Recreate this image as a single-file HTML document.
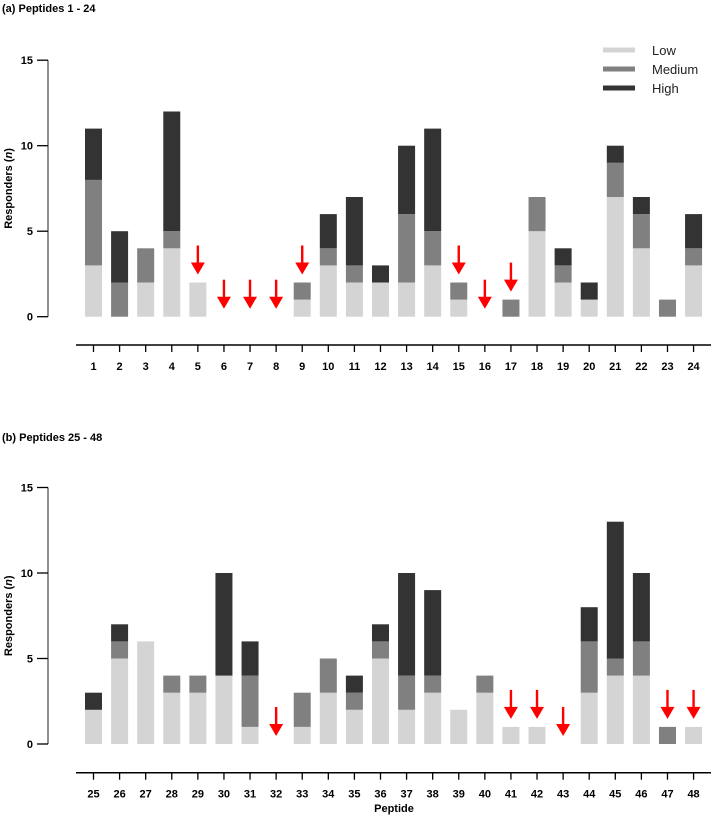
<!DOCTYPE html>
<html><head><meta charset="utf-8"><style>
html,body{margin:0;padding:0;background:#fff;width:711px;height:822px;overflow:hidden}
svg{display:block;font-family:"Liberation Sans",Arial,sans-serif}
</style></head><body>
<svg id="chart" width="711" height="822" xmlns="http://www.w3.org/2000/svg"></svg>
<script>
// Panel (a) data: peptides 1-24
const catsA = [1,2,3,4,5,6,7,8,9,10,11,12,13,14,15,16,17,18,19,20,21,22,23,24];
const lowA  = [3,0,2,4,2,0,0,0,1,3,2,2,2,3,1,0,0,5,2,1,7,4,0,3];
const medA  = [5,2,2,1,0,0,0,0,1,1,1,0,4,2,1,0,1,2,1,0,2,2,1,1];
const highA = [3,3,0,7,0,0,0,0,0,2,4,1,4,6,0,0,0,0,1,1,1,1,0,2];
const arrowsA = [5,6,7,8,9,15,16,17];
// Panel (b) data: peptides 25-48
const catsB = [25,26,27,28,29,30,31,32,33,34,35,36,37,38,39,40,41,42,43,44,45,46,47,48];
const lowB  = [2,5,6,3,3,4,1,0,1,3,2,5,2,3,2,3,1,1,0,3,4,4,0,1];
const medB  = [0,1,0,1,1,0,3,0,2,2,1,1,2,1,0,1,0,0,0,3,1,2,1,0];
const highB = [1,1,0,0,0,6,2,0,0,0,1,1,6,5,0,0,0,0,0,2,8,4,0,0];
const arrowsB = [32,41,42,43,47,48];
const yTicks = [0,5,10,15];

const NS = "http://www.w3.org/2000/svg";
const svg = document.getElementById('chart');
function mk(tag, attrs, parent){
  const e = document.createElementNS(NS, tag);
  for (const k in attrs) e.setAttribute(k, attrs[k]);
  (parent||svg).appendChild(e);
  return e;
}
const COLORS = ['#d4d4d4','#808080','#333333'];

function panel(id, title, titleY, y0, xAxisY, cats, low, med, high, arrows, showXTitle){
  const g = mk('g', {});
  
  
  const unit = 17.1;
  const yScale = v => y0 - v*unit;
  const xScale = i => 93.5 + i*26.09;
  const t = mk('text', {x:2, y:titleY, 'font-size':11, 'font-weight':'bold', fill:'#000'}, g);
  t.textContent = title;
  
  
  // y axis
  const ya = mk('line', {x1:48, x2:48, y1:yScale(15), y2:yScale(0), stroke:'#555', 'stroke-width':1.3}, g);
  
  
  yTicks.forEach(v => {
    mk('line', {x1:37, x2:48, y1:yScale(v), y2:yScale(v), stroke:'#000', 'stroke-width':1.3}, g);
    const tl = mk('text', {x:33, y:yScale(v)+4, 'font-size':11, 'font-weight':'bold', 'text-anchor':'end'}, g);
    tl.textContent = v;
    
    
  });
  const yt = mk('text', {x:0, y:0, 'font-size':11, 'font-weight':'bold', 'text-anchor':'middle', transform:`translate(12,${yScale(7.5)}) rotate(-90)`}, g);
  yt.innerHTML = 'Responders (<tspan font-style="italic">n</tspan>)';
  
  
  // x axis
  const xa = mk('line', {x1:76, x2:711, y1:xAxisY, y2:xAxisY, stroke:'#000', 'stroke-width':1.5}, g);
  
  
  cats.forEach((c,i) => {
    const x = xScale(i);
    mk('line', {x1:x, x2:x, y1:xAxisY, y2:xAxisY+7, stroke:'#000', 'stroke-width':1.3}, g);
    const tl = mk('text', {x:x, y:xAxisY+25, 'font-size':11, 'font-weight':'bold', 'text-anchor':'middle'}, g);
    tl.textContent = c;
    
    
    // stacked bars
    const vals = [low[i], med[i], high[i]];
    let base = 0;
    vals.forEach((v,k) => {
      if (v > 0) {
        const r = mk('rect', {x:x-8.5, width:17, y:yScale(base+v), height:v*unit, fill:COLORS[k]}, g);
        
        
      }
      base += v;
    });
    if (arrows.includes(c)) {
      const tip = yScale(base) - 8;
      const a = mk('g', {}, g);
      
      
      mk('rect', {x:x-1.2, y:tip-29, width:2.4, height:18, fill:'#ff0000'}, a);
      mk('polygon', {points:`${x-7},${tip-12} ${x+7},${tip-12} ${x},${tip}`, fill:'#ff0000'}, a);
    }
  });
  if (showXTitle) {
    const xt = mk('text', {x:394, y:812, 'font-size':11, 'font-weight':'bold', 'text-anchor':'middle'}, g);
    xt.textContent = 'Peptide';
    
    
  }
}
panel('panel-a', '(a) Peptides 1 - 24', 12, 316.7, 345, catsA, lowA, medA, highA, arrowsA, false);
panel('panel-b', '(b) Peptides 25 - 48', 441, 744, 772.7, catsB, lowB, medB, highB, arrowsB, true);

// legend
const leg = mk('g', {});


['Low','Medium','High'].forEach((n,k) => {
  const y = 50 + k*19;
  mk('line', {x1:603, x2:635, y1:y, y2:y, stroke:COLORS[k], 'stroke-width':5}, leg);
  const t = mk('text', {x:652, y:y+5, 'font-size':13, fill:'#222'}, leg);
  t.textContent = n;
  
  
});
</script>
</body></html>
